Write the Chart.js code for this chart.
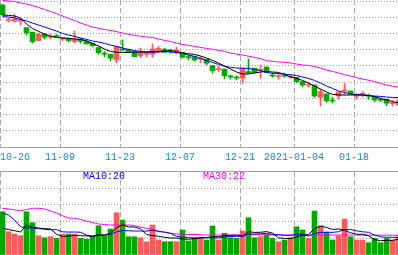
<!DOCTYPE html>
<html>
<head>
<meta charset="utf-8">
<script src="https://cdn.jsdelivr.net/npm/chart.js@4.4.0/dist/chart.umd.min.js"></script>
<style>
body { margin: 0; background: #fff; width: 398px; height: 255px; overflow: hidden; position: relative; }
canvas { position: absolute; left: 0; }
#priceChart { top: 0; }
#volChart { top: 171px; }
.ma { position: absolute; top: 172px; font: 10px "Liberation Mono", monospace; line-height: 10px; white-space: nowrap; }
</style>
</head>
<body>
<canvas id="priceChart" width="398" height="171"></canvas>
<canvas id="volChart" width="398" height="84"></canvas>
<span class="ma" style="left:83px;color:#0000ff">MA10:20</span>
<span class="ma" style="left:203px;color:#ff00ff">MA30:22</span>
<script>
let dates = [
    '2020-10-26', '2020-10-27', '2020-10-28', '2020-10-29', '2020-10-30',
    '2020-11-02', '2020-11-03', '2020-11-04', '2020-11-05', '2020-11-06',
    '2020-11-09', '2020-11-10', '2020-11-11', '2020-11-12', '2020-11-13',
    '2020-11-16', '2020-11-17', '2020-11-18', '2020-11-19', '2020-11-20',
    '2020-11-23', '2020-11-24', '2020-11-25', '2020-11-26', '2020-11-27',
    '2020-11-30', '2020-12-01', '2020-12-02', '2020-12-03', '2020-12-04',
    '2020-12-07', '2020-12-08', '2020-12-09', '2020-12-10', '2020-12-11',
    '2020-12-14', '2020-12-15', '2020-12-16', '2020-12-17', '2020-12-18',
    '2020-12-21', '2020-12-22', '2020-12-23', '2020-12-24', '2020-12-25',
    '2020-12-28', '2020-12-29', '2020-12-30', '2020-12-31',
    '2021-01-04', '2021-01-05', '2021-01-06', '2021-01-07', '2021-01-08',
    '2021-01-11', '2021-01-12', '2021-01-13', '2021-01-14', '2021-01-15',
    '2021-01-18', '2021-01-19', '2021-01-20', '2021-01-21', '2021-01-22',
    '2021-01-25', '2021-01-26', '2021-01-27'
];

let tickLabels = ['10-26', '11-09', '11-23', '12-07', '12-21', '2021-01-04', '01-18'];

let openPrices = [19.75, 18.98, 18.95, 18.95, 18.62, 18.39, 17.97, 18.30, 18.15, 18.22,
    18.04, 18.09, 17.92, 18.04, 17.92, 17.84, 17.62, 17.32, 17.29, 17.00,
    17.52, 17.54, 17.42, 17.22, 17.29, 17.29, 17.47, 17.54, 17.47, 17.45,
    17.39, 17.15, 17.17, 17.04, 17.04, 16.72, 16.52, 16.55, 16.19, 16.14,
    16.09, 16.42, 16.59, 16.48, 16.65, 16.24, 16.17, 16.22, 16.15, 16.14,
    15.92, 15.74, 15.75, 15.14, 15.30, 14.99, 15.20, 15.45, 15.45, 15.19,
    15.29, 15.22, 15.17, 15.02, 15.04, 14.82, 14.75];
let closePrices = [19.25, 19.03, 19.05, 18.98, 18.37, 17.92, 18.29, 18.14, 18.19, 18.14,
    18.12, 17.97, 18.05, 17.94, 17.80, 17.72, 17.37, 17.29, 17.09, 17.67,
    17.49, 17.39, 17.17, 17.37, 17.39, 17.55, 17.59, 17.39, 17.44, 17.49,
    17.14, 17.12, 17.00, 17.07, 16.84, 16.47, 16.55, 16.22, 16.15, 16.10,
    16.59, 16.35, 16.37, 16.53, 16.37, 16.20, 16.20, 16.19, 16.19, 15.92,
    15.75, 15.77, 15.20, 15.42, 14.97, 14.95, 15.40, 15.49, 15.30, 15.22,
    15.32, 15.19, 15.00, 14.99, 14.84, 14.85, 14.97];
let highPrices = [19.78, 19.10, 19.30, 19.10, 18.62, 18.39, 18.34, 18.30, 18.32, 18.27,
    18.12, 18.09, 18.45, 18.09, 18.00, 17.84, 17.62, 17.42, 17.29, 17.67,
    18.00, 17.54, 17.42, 17.59, 17.39, 17.80, 17.67, 17.59, 17.54, 17.64,
    17.39, 17.25, 17.20, 17.17, 17.04, 16.72, 16.70, 16.55, 16.25, 16.20,
    16.59, 17.05, 16.59, 16.75, 16.65, 16.34, 16.30, 16.34, 16.25, 16.14,
    15.92, 15.87, 15.75, 15.54, 15.30, 15.14, 15.40, 15.84, 15.45, 15.30,
    15.42, 15.30, 15.17, 15.09, 15.04, 14.97, 14.97];
let lowPrices = [19.25, 18.90, 18.90, 18.75, 18.25, 17.84, 17.97, 18.04, 18.05, 18.14,
    17.97, 17.90, 17.87, 17.84, 17.80, 17.67, 17.29, 17.17, 16.95, 16.87,
    17.48, 17.39, 17.17, 17.12, 17.14, 17.14, 17.39, 17.39, 17.34, 17.30,
    17.09, 17.00, 16.95, 16.87, 16.75, 16.34, 16.42, 16.05, 16.04, 16.00,
    15.84, 16.34, 16.37, 16.09, 16.37, 16.14, 16.04, 16.14, 16.09, 15.87,
    15.67, 15.64, 15.14, 14.70, 14.89, 14.84, 15.04, 15.25, 15.30, 15.04,
    15.17, 15.04, 14.92, 14.92, 14.72, 14.70, 14.75];

let ma5 = [19.25, 19.23, 19.20, 19.10, 18.80, 18.58, 18.43, 18.30, 18.18, 18.13,
    18.10, 18.08, 18.05, 18.03, 17.95, 17.83, 17.70, 17.55, 17.43, 17.38,
    17.38, 17.38, 17.39, 17.39, 17.40, 17.42, 17.42, 17.44, 17.47, 17.43,
    17.35, 17.31, 17.28, 17.20, 17.10, 16.98, 16.85, 16.70, 16.55, 16.40,
    16.30, 16.30, 16.35, 16.40, 16.43, 16.40, 16.38, 16.28, 16.15, 16.08,
    15.98, 15.85, 15.70, 15.55, 15.40, 15.28, 15.25, 15.25, 15.25, 15.25,
    15.25, 15.23, 15.17, 15.08, 15.00, 14.92, 14.85];
let ma10 = [19.17, 19.15, 19.10, 19.03, 18.95, 18.85, 18.75, 18.65, 18.55, 18.45,
    18.33, 18.25, 18.18, 18.10, 18.03, 17.95, 17.90, 17.83, 17.75, 17.68,
    17.60, 17.53, 17.47, 17.43, 17.40, 17.39, 17.40, 17.42, 17.40, 17.37,
    17.33, 17.25, 17.18, 17.08, 16.98, 16.88, 16.78, 16.69, 16.63, 16.60,
    16.59, 16.58, 16.53, 16.48, 16.37, 16.34, 16.32, 16.29, 16.26, 16.23,
    16.15, 16.08, 15.98, 15.85, 15.70, 15.58, 15.45, 15.38, 15.30, 15.28,
    15.25, 15.22, 15.20, 15.18, 15.15, 15.13, 15.12];
let ma30 = [19.98, 19.95, 19.93, 19.85, 19.80, 19.72, 19.63, 19.53, 19.42, 19.33,
    19.20, 19.08, 18.98, 18.85, 18.75, 18.65, 18.59, 18.53, 18.48, 18.42,
    18.35, 18.29, 18.23, 18.19, 18.15, 18.13, 18.05, 17.98, 17.93, 17.85,
    17.78, 17.73, 17.68, 17.63, 17.58, 17.54, 17.48, 17.43, 17.35, 17.30,
    17.25, 17.19, 17.13, 17.07, 16.97, 16.93, 16.90, 16.89, 16.85, 16.80,
    16.75, 16.73, 16.68, 16.60, 16.50, 16.43, 16.35, 16.27, 16.20, 16.12,
    16.05, 15.99, 15.92, 15.83, 15.75, 15.69, 15.64];

let volumes = [47.6, 25.6, 23.1, 21.2, 47.6, 35.5, 21.2, 19.0, 20.1, 18.4,
    23.1, 23.1, 23.1, 18.4, 17.3, 20.9, 32.2, 20.9, 28.6, 46.5,
    38.5, 20.1, 20.1, 19.0, 14.6, 33.0, 16.5, 14.6, 14.6, 14.6,
    27.5, 15.4, 18.4, 18.4, 16.5, 31.9, 16.5, 23.9, 19.0, 18.4,
    26.4, 41.0, 19.0, 20.1, 22.0, 18.4, 14.6, 16.5, 19.0, 31.1,
    27.5, 18.4, 48.4, 32.2, 25.0, 16.5, 21.2, 39.6, 20.1, 16.5,
    16.5, 13.5, 18.4, 13.5, 18.4, 16.5, 20.1];
let volMa5 = [29.4, 28.0, 26.7, 25.3, 33.0, 30.6, 29.7, 28.9, 28.7, 22.8,
    20.4, 20.7, 21.6, 21.2, 21.0, 20.6, 22.4, 21.9, 24.0, 29.8,
    33.3, 30.9, 30.8, 28.8, 22.5, 21.4, 20.6, 19.5, 18.7, 18.7,
    17.6, 17.3, 18.1, 18.9, 19.2, 20.1, 20.3, 21.4, 21.6, 21.9,
    20.8, 25.7, 24.8, 25.0, 25.7, 24.1, 18.8, 18.3, 18.1, 19.9,
    21.7, 22.5, 28.9, 31.5, 30.3, 28.1, 28.7, 26.9, 24.5, 22.8,
    22.8, 21.2, 17.0, 15.7, 16.1, 16.1, 17.4];
let volMa10 = [45.9, 44.0, 38.5, 31.1, 30.0, 29.4, 29.0, 28.3, 27.7, 27.9,
    25.5, 25.2, 25.3, 25.0, 21.9, 20.5, 21.6, 21.8, 22.6, 25.4,
    27.0, 26.7, 26.4, 26.4, 26.2, 27.4, 25.8, 25.2, 23.8, 20.6,
    19.5, 19.0, 18.8, 18.8, 19.0, 18.9, 18.8, 19.8, 20.3, 20.6,
    20.5, 23.0, 23.1, 23.3, 23.8, 22.5, 22.3, 21.6, 21.6, 22.8,
    22.9, 20.7, 23.6, 24.8, 25.1, 24.9, 25.6, 27.9, 28.0, 26.6,
    25.5, 25.0, 22.0, 20.1, 19.5, 19.5, 19.3];
let volMa30 = [51.4, 50.8, 49.7, 48.7, 50.1, 51.4, 51.4, 50.6, 48.4, 46.2,
    43.2, 40.7, 40.4, 39.1, 37.4, 35.8, 34.1, 33.6, 33.0, 33.0,
    33.0, 33.0, 32.5, 30.8, 29.4, 28.1, 26.4, 25.0, 23.9, 23.1,
    22.8, 22.6, 22.6, 22.3, 22.0, 22.0, 22.0, 22.0, 22.0, 22.0,
    22.0, 22.3, 22.3, 22.3, 22.3, 22.0, 22.0, 22.0, 22.0, 22.0,
    22.0, 22.0, 22.0, 22.0, 22.0, 22.0, 22.0, 22.0, 22.0, 21.9,
    21.9, 21.8, 21.8, 21.8, 21.8, 21.8, 21.8];

let upColor = '#ff5a5a';
let downColor = '#00a800';
let gridColor = '#a8a8a8';
let axisColor = '#a0a0a0';
let visibleSlots = 66.33;

let candleColors = closePrices.map((c, i) => c >= openPrices[i] ? upColor : downColor);
let tickIndex = tickLabels.map(t => dates.findIndex(d => d.endsWith(t)));

// candle body sits in the left part of its day slot
function pos(i) {
    return i + 0.4167;
}

function points(values) {
    return values.map((v, i) => ({ x: pos(i), y: v }));
}

function maLine(values, color) {
    return {
        type: 'line',
        data: points(values),
        borderColor: color,
        borderWidth: 1,
        pointRadius: 0,
        tension: 0,
        order: 0
    };
}

function xAxis(withLabels) {
    return {
        type: 'linear',
        min: 0,
        max: visibleSlots,
        offset: false,
        position: withLabels ? 'bottom' : 'top',
        afterBuildTicks: (s) => {
            s.ticks = tickIndex.map(v => ({ value: v })).concat([{ value: visibleSlots }]);
        },
        afterFit: (s) => {
            s.height = withLabels ? 24 : 0;
        },
        grid: {
            offset: false,
            color: (ctx) => ctx.index >= tickLabels.length ? 'rgba(0,0,0,0)' : gridColor,
            drawTicks: withLabels,
            tickLength: 4,
            tickColor: 'rgba(0,0,0,0)'
        },
        border: { display: true, color: axisColor, dash: [5, 3] },
        ticks: {
            display: withLabels,
            autoSkip: false,
            maxRotation: 0,
            align: 'inner',
            padding: 0,
            color: '#1a88d0',
            font: { family: 'Liberation Mono', size: 10 },
            callback: (v, i) => tickLabels[i] || ''
        }
    };
}

function yAxis(min, max, step, count) {
    return {
        min: min,
        max: max,
        afterBuildTicks: (s) => {
            let list = [];
            for (let k = 0; k < count; k++) {
                list.push({ value: min + step * k });
            }
            s.ticks = list;
        },
        afterFit: (s) => {
            s.width = 0;
        },
        ticks: { display: false },
        grid: { color: gridColor, drawTicks: false },
        border: { display: false, dash: [1, 2] }
    };
}

let commonOptions = {
    responsive: false,
    animation: false,
    events: [],
    layout: { padding: 0 },
    plugins: { legend: { display: false }, tooltip: { enabled: false } }
};

new Chart(document.getElementById('priceChart'), {
    type: 'bar',
    data: {
        datasets: [
            maLine(ma5, '#000000'),
            maLine(ma10, '#0000ff'),
            maLine(ma30, '#ff00ff'),
            {
                data: openPrices.map((o, i) => ({ x: pos(i), y: [o, closePrices[i]] })),
                backgroundColor: candleColors,
                barThickness: 5,
                minBarLength: 1,
                grouped: false,
                order: 1
            },
            {
                data: lowPrices.map((l, i) => ({ x: pos(i), y: [l, highPrices[i]] })),
                backgroundColor: candleColors,
                barThickness: 1,
                grouped: false,
                order: 2
            }
        ]
    },
    options: Object.assign({}, commonOptions, {
        scales: {
            x: xAxis(true),
            y: yAxis(12.65, 20, 0.81, 10)
        }
    })
});

new Chart(document.getElementById('volChart'), {
    type: 'bar',
    data: {
        datasets: [
            maLine(volMa5, '#000000'),
            maLine(volMa10, '#0000ff'),
            maLine(volMa30, '#ff00ff'),
            {
                data: points(volumes),
                backgroundColor: candleColors,
                barThickness: 5,
                grouped: false,
                order: 1
            }
        ]
    },
    options: Object.assign({}, commonOptions, {
        scales: {
            x: xAxis(false),
            y: yAxis(0, 92.4, 18.4, 5)
        }
    })
});
</script>
</body>
</html>
